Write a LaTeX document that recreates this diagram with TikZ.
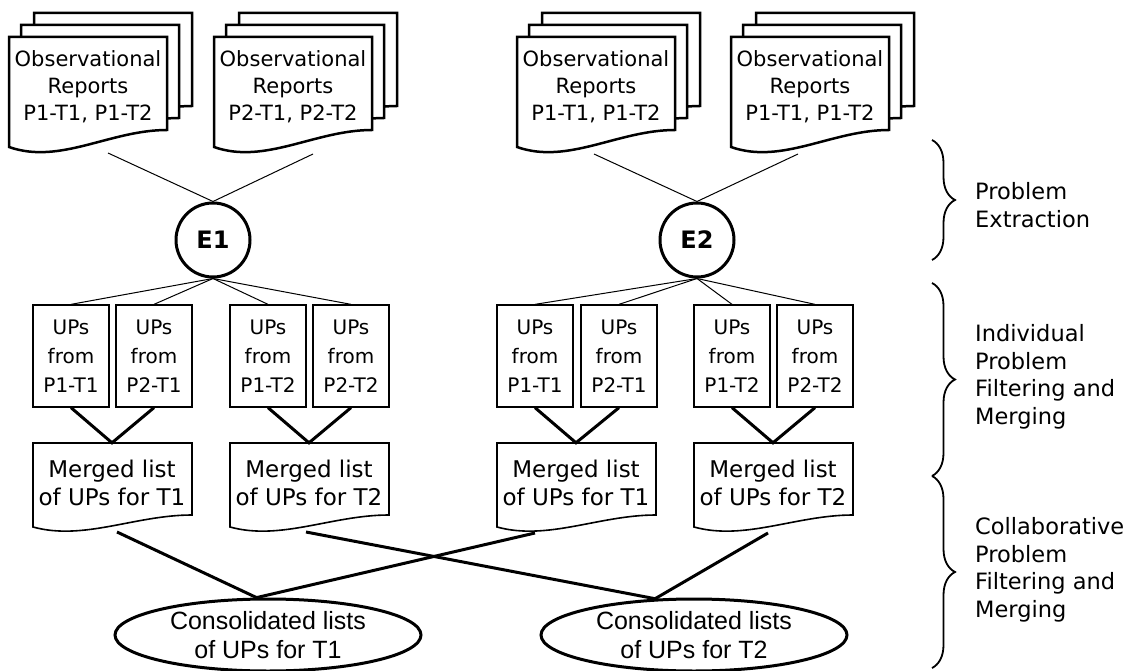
\documentclass[tikz,border=0pt]{standalone}
\usepackage{fontspec}
\setmainfont{DejaVu Sans}
\newfontfamily\ellfont{Liberation Sans}
\usepackage{tikz}
\usetikzlibrary{shapes.geometric,decorations.pathreplacing}

\newcommand{\reportpage}[2]{\filldraw[reppage] (#1,#2) -- ++(0,110) .. controls +(51,18) and +(-57,0) .. ++(158,-17) -- ++(0,-93) -- cycle;}
\newcommand{\reportstack}[2]{\reportpage{#1+25}{#2-24}\reportpage{#1+12}{#2-12}\reportpage{#1}{#2}}
\newcommand{\mergedpage}[2]{\filldraw[mrgpage] (#1,#2) -- ++(0,84) .. controls +(51,14) and +(-57,0) .. ++(159,-12) -- ++(0,-72) -- cycle;}

\begin{document}
\begin{tikzpicture}[x=1pt,y=-1pt,
        reppage/.style={fill=white,draw=black,line width=2.5pt},
        mrgpage/.style={fill=white,draw=black,line width=1.6pt},
        reptext/.style={align=center,inner sep=0pt,font=\fontsize{21}{27}\selectfont},
        mtext/.style={align=center,inner sep=0pt,minimum height=80pt,font=\fontsize{23}{28}\selectfont},
        enode/.style={circle,draw,line width=3pt,minimum size=74pt,inner sep=0pt,font=\fontsize{24}{24}\selectfont\bfseries},
        upbox/.style={draw,line width=1.3pt,minimum width=76pt,minimum height=102pt,inner sep=0pt,align=center,font=\fontsize{20}{29}\selectfont},
        consol/.style={ellipse,draw,line width=3pt,minimum width=306pt,minimum height=72pt,inner sep=0pt,align=center,font=\ellfont\fontsize{25}{29}\selectfont},
        phase/.style={anchor=west,align=left,inner sep=0pt,font=\fontsize{22.5}{27.5}\selectfont},
        phasebrace/.style={decorate,decoration={brace,amplitude=23pt},line width=1.8pt},
        thinline/.style={line width=1pt},
        thickline/.style={line width=3pt}]
        \useasboundingbox (0,0) rectangle (1135,671);
        %Pages
        \reportstack{9}{37}
        \reportstack{214}{37}
        \reportstack{517}{37}
        \reportstack{731}{37}
        \mergedpage{33}{443}
        \mergedpage{230}{443}
        \mergedpage{497}{443}
        \mergedpage{694}{443}
        %Reports
        \node[reptext] (r1) at (88,87) {Observational\\Reports\\P1-T1, P1-T2};
        \node[reptext] (r2) at (293,87) {Observational\\Reports\\P2-T1, P2-T2};
        \node[reptext] (r3) at (596,87) {Observational\\Reports\\P1-T1, P1-T2};
        \node[reptext] (r4) at (810,87) {Observational\\Reports\\P1-T1, P1-T2};
        \coordinate (r1b) at (108,153);
        \coordinate (r2b) at (313,154);
        \coordinate (r3b) at (594,154);
        \coordinate (r4b) at (798,154);
        %Evaluators
        \node[enode] (e1) at (213,240) {E1};
        \node[enode] (e2) at (697,240) {E2};
        %UP boxes
        \node[upbox] (u1) at (71,356) {UPs\\from\\P1-T1};
        \node[upbox] (u2) at (154,356) {UPs\\from\\P2-T1};
        \node[upbox] (u3) at (268,356) {UPs\\from\\P1-T2};
        \node[upbox] (u4) at (351,356) {UPs\\from\\P2-T2};
        \node[upbox] (u5) at (535,356) {UPs\\from\\P1-T1};
        \node[upbox] (u6) at (619,356) {UPs\\from\\P2-T1};
        \node[upbox] (u7) at (732,356) {UPs\\from\\P1-T2};
        \node[upbox] (u8) at (815,356) {UPs\\from\\P2-T2};
        %Merged lists
        \node[mtext] (m1) at (112,483) {Merged list\\of UPs for T1};
        \node[mtext] (m2) at (309,483) {Merged list\\of UPs for T2};
        \node[mtext] (m3) at (576,483) {Merged list\\of UPs for T1};
        \node[mtext] (m4) at (773,483) {Merged list\\of UPs for T2};
        \coordinate (m1b) at (117,532);
        \coordinate (m2b) at (306,532);
        \coordinate (m3b) at (535,533);
        \coordinate (m4b) at (768,533);
        %Consolidated lists
        \node[consol] (c1) at (268,635) {Consolidated lists\\of UPs for T1};
        \node[consol] (c2) at (694,635) {Consolidated lists\\of UPs for T2};
        %Draw edges
        \draw[thinline] (r1b) -- (e1.north) -- (r2b);
        \draw[thinline] (r3b) -- (e2.north) -- (r4b);
        \draw[thinline] (e1.south) -- (u1.north);
        \draw[thinline] (e1.south) -- (u2.north);
        \draw[thinline] (e1.south) -- (u3.north);
        \draw[thinline] (e1.south) -- (u4.north);
        \draw[thinline] (e2.south) -- (u5.north);
        \draw[thinline] (e2.south) -- (u6.north);
        \draw[thinline] (e2.south) -- (u7.north);
        \draw[thinline] (e2.south) -- (u8.north);
        \draw[thickline] (u1.south) -- (m1.north) -- (u2.south);
        \draw[thickline] (u3.south) -- (m2.north) -- (u4.south);
        \draw[thickline] (u5.south) -- (m3.north) -- (u6.south);
        \draw[thickline] (u7.south) -- (m4.north) -- (u8.south);
        \draw[thickline] (m1b) -- (c1.107) -- (m3b);
        \draw[thickline] (m2b) -- (c2.137) -- (m4b);
        %Phases
        \draw[phasebrace] (932,140) -- (932,260);
        \draw[phasebrace] (932,283) -- (932,476);
        \draw[phasebrace] (932,476) -- (932,668);
        \node[phase] (p1) at (975,205) {Problem\\Extraction};
        \node[phase] (p2) at (975,377) {Individual\\Problem\\Filtering and\\Merging};
        \node[phase] (p3) at (975,570) {Collaborative\\Problem\\Filtering and\\Merging};
\end{tikzpicture}
\end{document}
